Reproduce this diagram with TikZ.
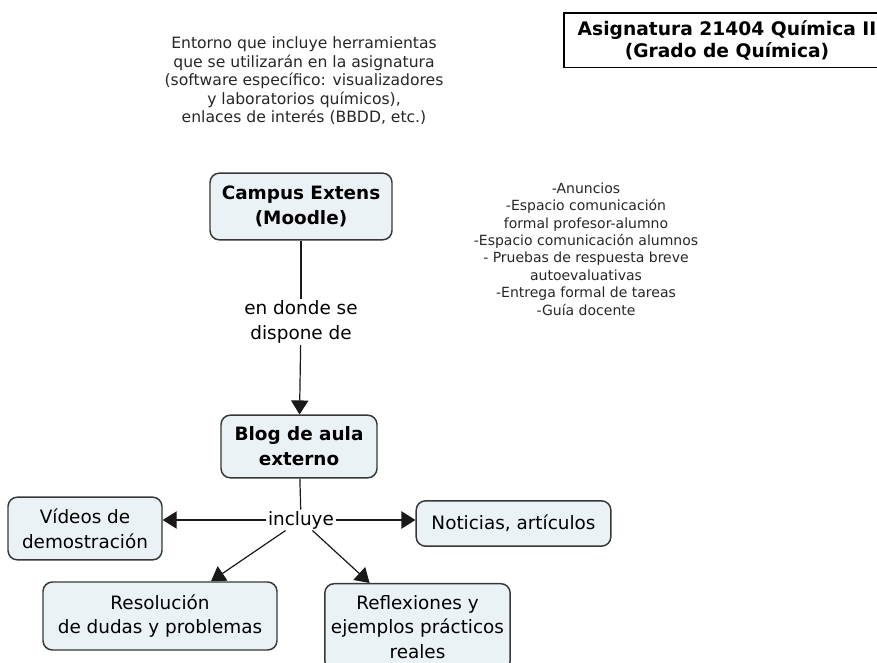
\documentclass[tikz,border=0pt]{standalone}
\usepackage{fontspec}
\setmainfont{DejaVu Sans}
\usetikzlibrary{arrows.meta}
\definecolor{conceptfill}{RGB}{234,242,246}
\definecolor{conceptline}{RGB}{55,55,55}

\begin{document}
\begin{tikzpicture}[x=0.75pt,y=-0.75pt,
    concept/.style={draw=conceptline,line width=1.1pt,fill=conceptfill,
        rounded corners=7pt,align=center,font=\fontsize{13.8}{18.6}\selectfont,inner sep=2pt},
    linkword/.style={fill=white,align=center,font=\fontsize{13.8}{18.6}\selectfont,inner sep=1pt},
    note/.style={align=center,text=black!85},
    link/.style={line width=0.9pt,draw=black!90},
    arrowlink/.style={link,-{Triangle[length=10.5pt,width=13pt]}}]
\useasboundingbox (0,0) rectangle (877,663);
% title box in the upper right corner (its right side runs off the page)
\node[draw,line width=1pt,minimum width=244.5pt,minimum height=41pt,align=center,
      font=\bfseries\fontsize{14}{16}\selectfont] (title) at (727,40.5)
      {Asignatura 21404 Química II\\(Grado de Química)};
% notes with no connectors
\node[note,font=\fontsize{11.7}{13.9}\selectfont] (entorno) at (304,81)
      {Entorno que incluye herramientas\\que se utilizarán en la asignatura\\(software específico: visualizadores\\y laboratorios químicos),\\enlaces de interés (BBDD, etc.)};
\node[note,font=\fontsize{10.5}{13.1}\selectfont] (lista) at (586,249)
      {-Anuncios\\-Espacio comunicación\\formal profesor-alumno\\-Espacio comunicación alumnos\\- Pruebas de respuesta breve\\autoevaluativas\\-Entrega formal de tareas\\-Guía docente};
% the main concepts, top to bottom
\node[concept,font=\bfseries\fontsize{13.8}{18.6}\selectfont,minimum width=136.5pt,minimum height=50pt]
      (campus) at (301,206.5) {Campus Extens\\(Moodle)};
\node[linkword] (dispone) at (301,322) {en donde se\\dispone de};
\node[concept,font=\bfseries\fontsize{13.8}{18.6}\selectfont,minimum width=117pt,minimum height=47pt]
      (blog) at (299,446.5) {Blog de aula\\externo};
\node[linkword] (incluye) at (301,520) {incluye};
% what the blog includes
\node[concept,minimum width=115.5pt,minimum height=47pt] (videos) at (85,528.5) {Vídeos de\\demostración};
\node[concept,minimum width=146pt,minimum height=34pt] (noticias) at (513.5,523.5) {Noticias, artículos};
\node[concept,minimum width=175.5pt,minimum height=51pt] (resolucion) at (160,616) {Resolución\\de dudas y problemas};
\node[concept,minimum width=139pt,minimum height=65pt] (reflexiones) at (417.5,627) {Reflexiones y\\ejemplos prácticos\\reales};
% connectors
\draw[link] (campus) -- (dispone);
\draw[arrowlink] (dispone) -- (blog);
\draw[link] (blog) -- (incluye);
\draw[arrowlink] (incluye.west) -- (incluye.west -| videos.east);
\draw[arrowlink] (incluye.east) -- (incluye.east -| noticias.west);
\draw[arrowlink] (incluye) -- (resolucion);
\draw[arrowlink] (incluye) -- (reflexiones);
\end{tikzpicture}
\end{document}
